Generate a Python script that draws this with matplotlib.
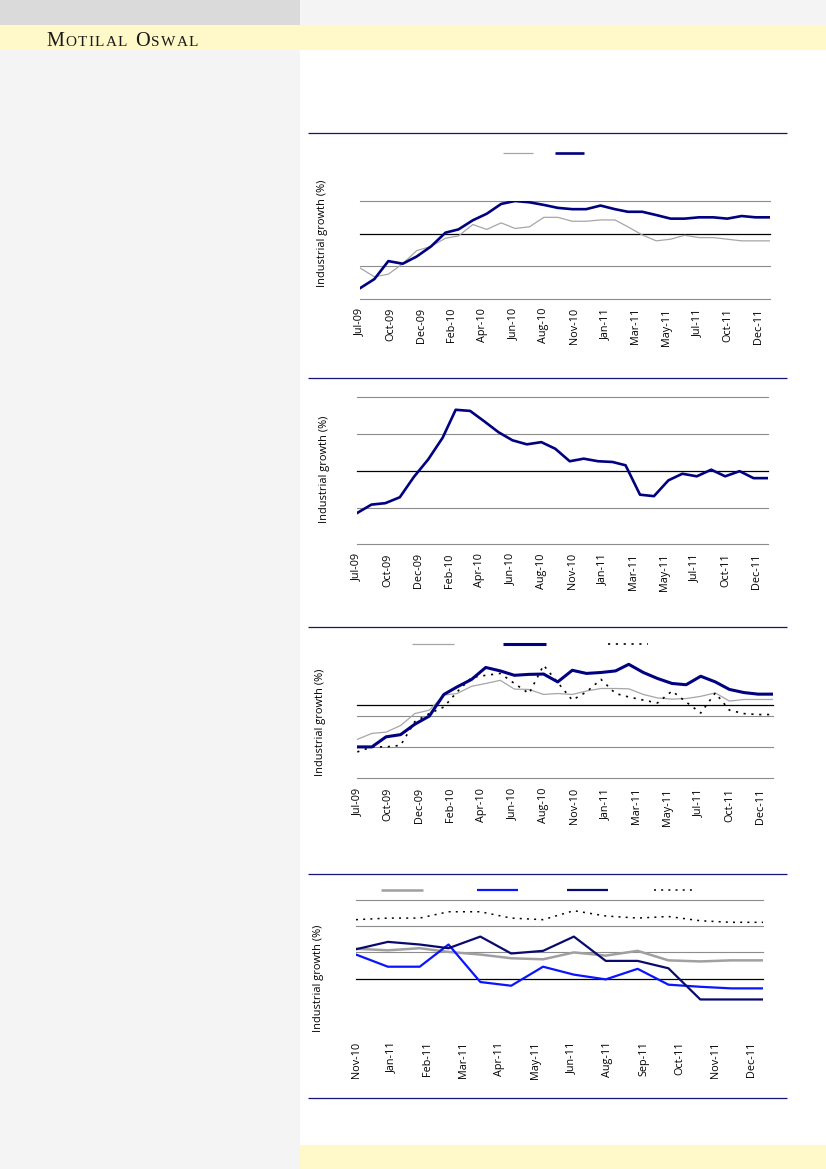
import matplotlib
matplotlib.use("Agg")
import matplotlib.pyplot as plt
import matplotlib.dates as mdates
from matplotlib.patches import Rectangle
from matplotlib.lines import Line2D
import pandas as pd
import numpy as np

# ---------------- data ----------------
months_a = ['Jul-09', 'Aug-09', 'Sep-09', 'Oct-09', 'Nov-09', 'Dec-09', 'Jan-10', 'Feb-10',
            'Mar-10', 'Apr-10', 'May-10', 'Jun-10', 'Jul-10', 'Aug-10', 'Sep-10', 'Oct-10',
            'Nov-10', 'Dec-10', 'Jan-11', 'Feb-11', 'Mar-11', 'Apr-11', 'May-11', 'Jun-11',
            'Jul-11', 'Aug-11', 'Sep-11', 'Oct-11', 'Nov-11', 'Dec-11']
ticks_a = ['Jul-09', 'Oct-09', 'Dec-09', 'Feb-10', 'Apr-10', 'Jun-10', 'Aug-10', 'Nov-10',
           'Jan-11', 'Mar-11', 'May-11', 'Jul-11', 'Oct-11', 'Dec-11']

c1_gray = [-10.5, -13.2, -12.4, -9.2, -5.2, -3.9, -1.4, -0.7, 2.8, 1.3, 3.3, 1.6, 2.1, 5.0, 5.0,
           3.8, 3.8, 4.2, 4.2, 2.1, -0.4, -2.2, -1.7, -0.5, -1.2, -1.2, -1.7, -2.2, -2.2, -2.2]
c1_navy = [-16.7, -13.9, -8.4, -9.2, -7.0, -3.9, 0.3, 1.3, 4.1, 6.1, 9.1, 10.0, 9.6, 8.8, 7.9,
           7.5, 7.5, 8.6, 7.5, 6.7, 6.7, 5.7, 4.6, 4.6, 5.0, 5.0, 4.6, 5.4, 5.0, 5.0]

c2_navy = [-11.5, -9.2, -8.8, -7.2, -1.7, 3.1, 9.0, 16.6, 16.3, 13.5, 10.5, 8.3, 7.2, 7.8, 6.0,
           2.6, 3.3, 2.6, 2.4, 1.5, -6.5, -6.9, -2.6, -0.8, -1.5, 0.3, -1.5, -0.1, -2.0, -2.0]

c3_gray = [-7.6, -5.7, -5.3, -3.2, 0.6, 1.7, 6.5, 7.0, 9.3, 10.2, 11.2, 8.4, 8.3, 6.7, 7.0,
           6.7, 7.8, 8.6, 8.6, 8.5, 6.7, 5.6, 5.2, 5.4, 6.1, 7.2, 4.6, 5.1, 5.1, 5.1]
c3_navy = [-10.0, -10.0, -6.8, -6.1, -2.8, -0.2, 6.7, 9.1, 11.5, 15.3, 14.2, 12.8, 13.1, 13.2, 10.7,
           14.4, 13.4, 13.7, 14.2, 16.3, 13.7, 11.8, 10.2, 9.8, 12.5, 10.7, 8.3, 7.3, 6.8, 6.8]
c3_dot = [-11.6, -10.0, -10.0, -9.5, -2.0, 0.6, 2.7, 7.5, 12.1, 12.8, 13.4, 10.2, 7.0, 16.0, 10.5,
          4.9, 7.5, 11.5, 7.0, 5.9, 4.9, 4.0, 7.8, 4.3, 0.8, 7.2, 1.7, 0.6, 0.3, 0.3]

months_b = ['Nov-10', 'Dec-10', 'Jan-11', 'Feb-11', 'Mar-11', 'Apr-11', 'May-11', 'Jun-11',
            'Jul-11', 'Aug-11', 'Sep-11', 'Oct-11', 'Nov-11', 'Dec-11']
ticks_b = ['Nov-10', 'Jan-11', 'Feb-11', 'Mar-11', 'Apr-11', 'May-11', 'Jun-11', 'Aug-11',
           'Sep-11', 'Oct-11', 'Nov-11', 'Dec-11']
c4_gray = [5.7, 5.4, 5.8, 5.1, 4.6, 3.9, 3.7, 5.0, 4.4, 5.3, 3.5, 3.3, 3.5, 3.5]
c4_blue = [4.6, 2.3, 2.3, 6.5, -0.6, -1.3, 2.3, 0.8, -0.1, 1.9, -1.1, -1.5, -1.8, -1.8]
c4_navy = [5.6, 7.0, 6.5, 5.8, 8.0, 4.8, 5.3, 8.0, 3.4, 3.4, 2.0, -3.9, -3.9, -3.9]
c4_dot = [11.2, 11.5, 11.5, 12.7, 12.7, 11.5, 11.2, 12.9, 11.9, 11.5, 11.8, 11.0, 10.7, 10.7]

ylabel = 'Industrial growth (%)'
brand = 'Motilal Oswal'

# ---------------- page ----------------
W, H = 826, 1169
fig = plt.figure(figsize=(W / 100, H / 100), dpi=100)
fig.patch.set_facecolor('white')
FONT = ['Open Sans', 'DejaVu Sans']
NAVY = '#000080'
GRAYL = '#a6a6a6'
GRID = '#8c8c8c'


def rect(x0, y0, x1, y1, color):
    fig.patches.append(Rectangle((x0 / W, 1 - y1 / H), (x1 - x0) / W, (y1 - y0) / H,
                                 transform=fig.transFigure, facecolor=color,
                                 edgecolor='none', zorder=0))


rect(0, 0, 300, 25, '#dadada')
rect(300, 0, W, 25, '#f4f4f4')
rect(0, 25, W, 50, '#fff8c8')
rect(0, 50, 300, H, '#f4f4f4')
rect(300, 1145, W, H, '#fff8c8')


def hline_px(x0, x1, y, color, lw, ls='-'):
    fig.add_artist(Line2D([x0 / W, x1 / W], [1 - y / H, 1 - y / H], transform=fig.transFigure,
                          color=color, lw=lw, linestyle=ls, solid_capstyle='butt'))


for yy in [133, 378, 627, 874, 1098]:
    hline_px(308, 787, yy, '#14147a', 0.9)

# brand text in small caps
renderer = fig.canvas.get_renderer()
xcur = 46.0
base = 1 - 45.5 / H
for word_i, word in enumerate(brand.upper().split(' ')):
    for j, ch in enumerate(word):
        size = 14.6 if j == 0 else 11.0
        t = fig.text(xcur / W, base, ch, fontsize=size, family=['Liberation Serif'],
                     color='#1a1a1a', va='baseline', ha='left')
        bb = t.get_window_extent(renderer)
        xcur += bb.width + 1.4
    xcur += 6.0


def make_axes(x0, x1, ytop, ybot):
    ax = fig.add_axes([x0 / W, 1 - ybot / H, (x1 - x0) / W, (ybot - ytop) / H])
    ax.set_facecolor('none')
    for s in ax.spines.values():
        s.set_visible(False)
    ax.tick_params(axis='both', length=0)
    ax.set_yticks([])
    return ax


def to_dates(labels):
    return [pd.to_datetime(s, format='%b-%y') + pd.offsets.MonthEnd(0) for s in labels]


def setup_x(ax, dates, tick_labels, step_days, pad):
    d = mdates.date2num(dates)
    ax.set_xlim(d[0], d[-1])
    pos = [d[0] + step_days * k for k in range(len(tick_labels))]
    ax.set_xticks(pos)
    ax.set_xticklabels(tick_labels, rotation=90, fontsize=7.8, family=FONT, va='top', ha='center')
    ax.tick_params(axis='x', pad=pad)
    return d


def grid(ax, vals, color, lw):
    for v in vals:
        ax.axhline(v, color=color, lw=lw, zorder=1, clip_on=False)


def ylab(x, yc):
    fig.text(x / W, 1 - yc / H, ylabel, rotation=90, fontsize=7.9, family=FONT,
             ha='center', va='center')


def legend_line(x0, x1, y, **kw):
    fig.add_artist(Line2D([x0 / W, x1 / W], [1 - y / H, 1 - y / H], transform=fig.transFigure,
                          solid_capstyle='butt', **kw))


da = to_dates(months_a)
db = to_dates(months_b)
DOT = (0, (1.3, 3.4))

# ---------------- chart 1 ----------------
ax1 = make_axes(360, 770, 201, 299)
ax1.set_ylim(-20, 10)
grid(ax1, [10, -10, -20], GRID, 0.8)
grid(ax1, [0], 'black', 0.9)
x = setup_x(ax1, da, ticks_a, 66, 6.5)
ax1.plot(x, c1_gray, color=GRAYL, lw=0.9, zorder=3)
ax1.plot(x, c1_navy, color=NAVY, lw=1.9, zorder=4)
ylab(323, 233.5)
legend_line(503, 533, 153, color=GRAYL, lw=0.9)
legend_line(555, 584, 153, color=NAVY, lw=1.9)

# ---------------- chart 2 ----------------
ax2 = make_axes(357, 768, 397.3, 544.3)
ax2.set_ylim(-20, 20)
grid(ax2, [20, 10, -10, -20], GRID, 0.8)
grid(ax2, [0], 'black', 0.9)
x = setup_x(ax2, da, ticks_a, 66, 6.5)
ax2.plot(x, c2_navy, color=NAVY, lw=1.9, zorder=4)
ylab(324, 469)

# ---------------- chart 3 ----------------
ax3 = make_axes(357.3, 772.7, 652.7, 778.3)
ax3.set_ylim(-20, 20)
grid(ax3, [0, -10, -20], GRID, 0.8)
grid(ax3, [3.5], 'black', 0.9)
x = setup_x(ax3, da, ticks_a, 66, 7.0)
ax3.plot(x, c3_gray, color=GRAYL, lw=0.9, zorder=3)
ax3.plot(x, c3_dot, color='black', lw=1.2, linestyle=DOT, zorder=3)
ax3.plot(x, c3_navy, color=NAVY, lw=2.2, zorder=4)
ylab(321, 722.5)
legend_line(412, 454, 644, color=GRAYL, lw=0.9)
legend_line(503, 546, 644, color=NAVY, lw=2.2)
legend_line(608, 648, 644, color='black', lw=1.2, linestyle=DOT)

# ---------------- chart 4 ----------------
ax4 = make_axes(356, 763, 899.6, 1031.7)
ax4.set_ylim(-10, 15)
grid(ax4, [15, 10, 5], GRID, 0.8)
grid(ax4, [0], 'black', 0.9)
x = setup_x(ax4, db, ticks_b, 35, 7.0)
ax4.plot(x, c4_gray, color='#a0a0a0', lw=1.8, zorder=3)
ax4.plot(x, c4_dot, color='black', lw=1.1, linestyle=DOT, zorder=3)
ax4.plot(x, c4_blue, color='#0a14ff', lw=1.6, zorder=4)
ax4.plot(x, c4_navy, color='#0a0a6e', lw=1.6, zorder=5)
ylab(319, 978)
legend_line(381, 423, 889.5, color='#a0a0a0', lw=1.8)
legend_line(477, 518, 889.5, color='#0a14ff', lw=1.6)
legend_line(567, 608, 889.5, color='#0a0a6e', lw=1.6)
legend_line(654, 695, 889.5, color='black', lw=1.1, linestyle=DOT)

fig.savefig('out.png', dpi=100)
